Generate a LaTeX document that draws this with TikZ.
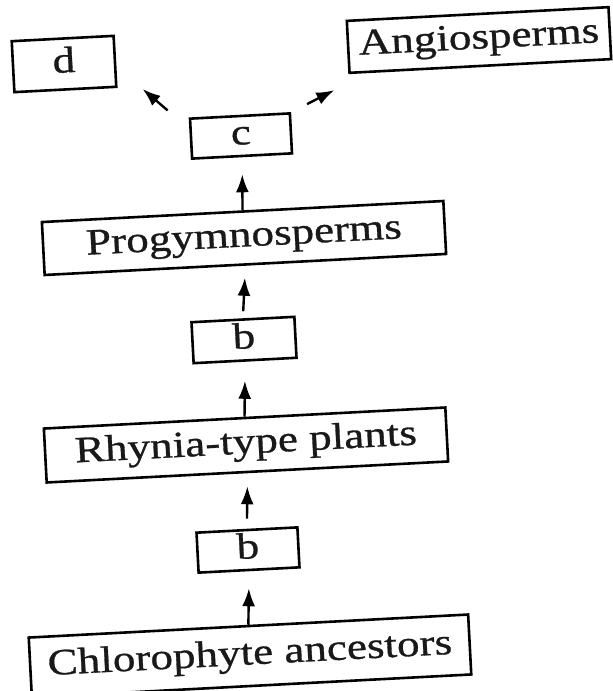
\documentclass[tikz,border=0pt]{standalone}
\usepackage{fontspec}
\newfontfamily\labfont[FakeStretch=1.22,FakeBold=0.8]{Liberation Serif}
\usetikzlibrary{arrows.meta}
\tikzset{
  box/.style={draw=black, line width=2.6pt, fill=white, rotate=3, inner sep=0pt,
    font=\labfont\fontsize{37}{42}\selectfont, text=black!90,
    text height=25pt, text depth=8pt},
  arr/.style={line width=2.4pt, -{Latex[length=18pt,width=13pt]}}
}
\begin{document}
\begin{tikzpicture}[x=1pt,y=-1pt]
\useasboundingbox (0,0) rectangle (613,691);
\node[box, minimum width=102pt, minimum height=51pt] (d) at (64,64) {d};
\node[box, minimum width=262pt, minimum height=52pt] (ang) at (479,40) {Angiosperms};
\node[box, minimum width=100pt, minimum height=40pt] (c) at (241,136) {c};
\node[box, minimum width=402pt, minimum height=53pt] (prog) at (244,238) {Progymnosperms};
\node[box, minimum width=103pt, minimum height=41pt] (b2) at (244,340) {b};
\node[box, minimum width=402pt, minimum height=54pt] (rhy) at (246,445) {Rhynia-type plants};
\node[box, minimum width=101pt, minimum height=40pt] (b1) at (248,550) {b};
\node[box, minimum width=440pt, minimum height=60pt] (chl) at (250,656) {Chlorophyte ancestors};

\draw[arr, shorten >=17pt] (chl.north) -- (b1.south);
\draw[arr, shorten <=10pt, shorten >=13pt] (b1.north) -- (rhy.south);
\draw[arr, shorten >=19pt] (rhy.north) -- (b2.south);
\draw[arr, shorten <=7pt, shorten >=12pt] (b2.north) -- (prog.south);
\draw[arr, shorten >=17pt] (prog.north) -- (c.south);
\draw[arr] ([shift={(-21pt,7pt)}]c.north west) -- ([shift={(25pt,-1pt)}]d.south east);
\draw[arr] ([shift={(16pt,8pt)}]c.north east) -- ([shift={(-14pt,-16pt)}]ang.south west);
\end{tikzpicture}
\end{document}
